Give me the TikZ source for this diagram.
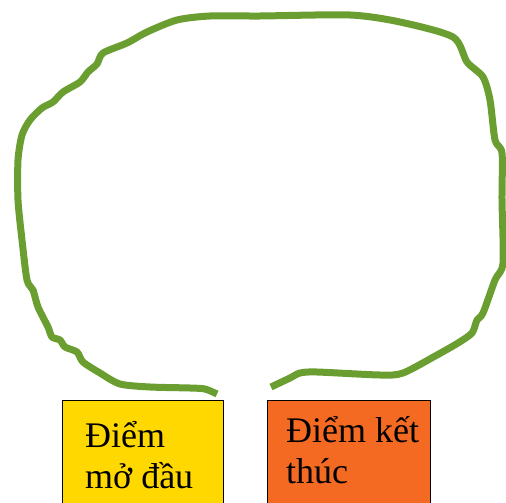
\documentclass[tikz,border=0pt]{standalone}
\usepackage{fontspec}
\setmainfont{Liberation Serif}
\definecolor{loopgreen}{HTML}{6A9E31}
\definecolor{startyellow}{HTML}{FFD800}
\definecolor{endorange}{HTML}{F46A22}
\tikzset{
  pathloop/.style={draw=loopgreen, line width=7pt, line join=round},
  markbox/.style={draw=black, line width=1.3pt, rectangle, inner sep=0pt, anchor=north west},
  boxtext/.style={font=\fontsize{36}{41}\selectfont, anchor=base west, inner sep=0pt},
}
\begin{document}
\begin{tikzpicture}[x=1pt, y=-1pt]
\useasboundingbox (0,0) rectangle (506,503);

% boxes (run off the bottom edge)
\node[markbox, fill=startyellow, minimum width=161pt, minimum height=120pt] (startbox) at (62,400) {};
\node[markbox, fill=endorange, minimum width=163pt, minimum height=120pt] (endbox) at (267,400) {};

\node[boxtext] (startA) at (85,447) {Điểm};
\node[boxtext] (startB) at (85,488) {mở đầu};
\node[boxtext] (endA) at (286,442) {Điểm kết};
\node[boxtext] (endB) at (286,483) {thúc};

% hand-drawn loop from the start point round to the end point
\coordinate (loopstart) at (217,394);
\coordinate (loopend) at (271,387);
\draw[pathloop] plot[smooth, tension=0.45] coordinates {
  (217,394) (205,389) (190,388) (150,387) (120,384) (100,373) (83,362)
  (77,352) (65,347) (60,340) (52,337) (48,327) (38,307) (33,290) (27,280)
  (22,240) (18,200) (18,160) (22,135) (30,120) (42,108) (53,102) (63,92)
  (80,82) (88,72) (97,64) (103,53) (127,43) (147,32) (177,20) (210,16)
  (260,16) (350,15) (400,22) (453,37) (467,62) (483,77) (490,100)
  (495,140) (502,153) (502,200) (503,263) (495,280) (483,313) (477,320)
  (472,333) (458,343) (437,355) (403,373) (380,375) (317,372) (300,373)
  (290,378) (271,387)
};
\end{tikzpicture}
\end{document}
